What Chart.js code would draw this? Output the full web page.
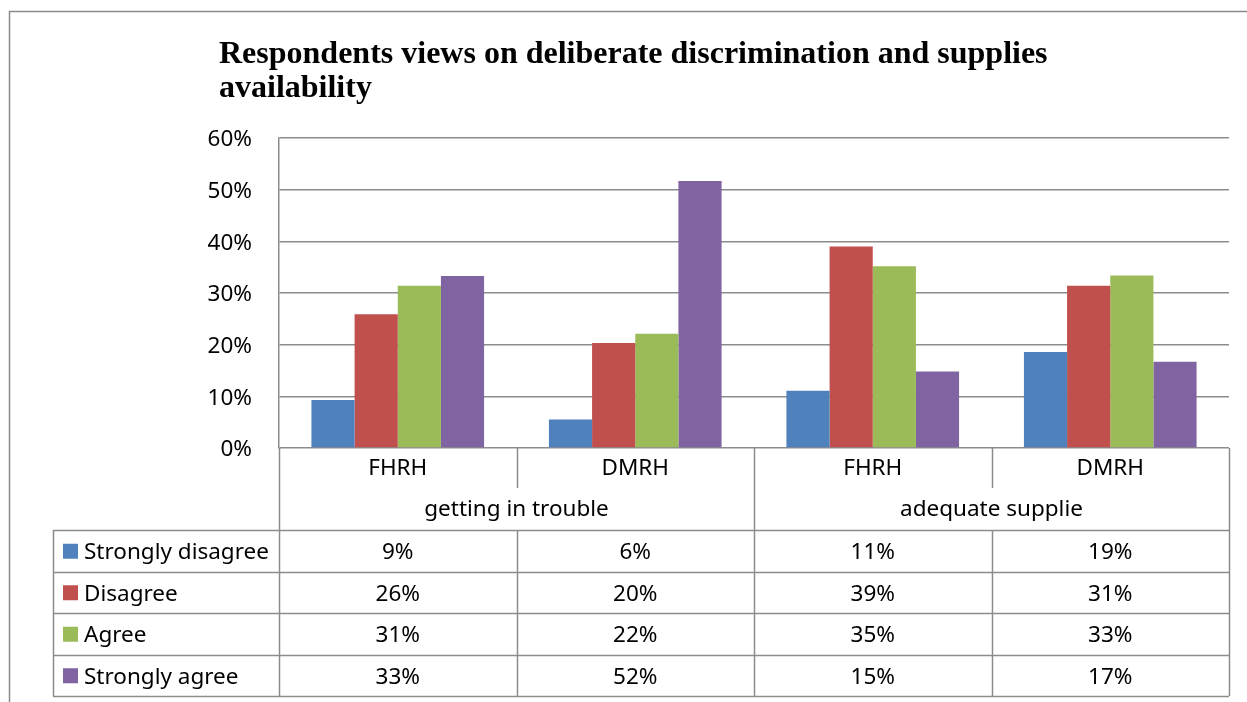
<!DOCTYPE html>
<html>
<head>
<meta charset="utf-8">
<title>Respondents views on deliberate discrimination and supplies availability</title>
<script src="https://cdn.jsdelivr.net/npm/chart.js@4.4.1/dist/chart.umd.min.js"></script>
<style>
    html, body { margin: 0; padding: 0; background: #fff; }
    #wrap { width: 1247px; height: 702px; position: relative; }
</style>
</head>
<body>
<div id="wrap"><canvas id="bar_chart" width="1247" height="702"></canvas></div>
<script>
var titleLines = ["Respondents views on deliberate discrimination and supplies", "availability"];
var hospitals = ["FHRH", "DMRH", "FHRH", "DMRH"];
var questions = ["getting in trouble", "adequate supplie"];
var yTicks = [0, 10, 20, 30, 40, 50, 60];

// percent of respondents per answer, per hospital
var stronglyDisagree = [9.3, 5.5, 11.1, 18.6];
var disagree = [25.9, 20.3, 39.0, 31.4];
var agree = [31.4, 22.1, 35.2, 33.4];
var stronglyAgree = [33.3, 51.7, 14.8, 16.7];

var seriesNames = ["Strongly disagree", "Disagree", "Agree", "Strongly agree"];
var seriesColors = ["#4F81BD", "#C0504D", "#9BBB59", "#8064A2"];

var gridColor = "#8c8c8c";
var textFont = "'Noto Sans', 'Open Sans', sans-serif";
var textSize = 22.5;

// title, outer frame and the data table under the axis
var tablePlugin = {
    id: 'dataTable',
    afterDraw: function (chart) {
        var ctx = chart.ctx;
        var area = chart.chartArea;
        var x = chart.scales.x;
        var colW = (area.right - area.left) / hospitals.length;
        var legendLeft = 53;
        var catBottom = 488;
        var headBottom = 530;
        var rowH = 41.5;
        var rowsTop = headBottom;
        var tableBottom = rowsTop + rowH * seriesNames.length;

        ctx.save();

        // frame
        ctx.strokeStyle = '#8a8a8a';
        ctx.lineWidth = 1.5;
        ctx.beginPath();
        ctx.moveTo(9.5, 702);
        ctx.lineTo(9.5, 11.5);
        ctx.lineTo(1247, 11.5);
        ctx.stroke();

        // title
        ctx.fillStyle = '#000';
        ctx.font = "bold 32px 'Liberation Serif', 'Times New Roman', serif";
        ctx.textAlign = 'left';
        ctx.textBaseline = 'alphabetic';
        ctx.fillText(titleLines[0], 219, 63);
        ctx.fillText(titleLines[1], 219, 97);

        // table lines
        ctx.strokeStyle = gridColor;
        ctx.lineWidth = 1.5;
        ctx.beginPath();
        for (var c = 0; c <= hospitals.length; c++) {
            var lx = Math.round(area.left + c * colW) + 0.5;
            if (c === 1 || c === 3) {
                // split between hospitals only in the header row
                ctx.moveTo(lx, area.bottom);
                ctx.lineTo(lx, catBottom);
                ctx.moveTo(lx, rowsTop);
                ctx.lineTo(lx, tableBottom);
            } else {
                ctx.moveTo(lx, area.bottom);
                ctx.lineTo(lx, tableBottom);
            }
        }
        ctx.moveTo(legendLeft + 0.5, rowsTop);
        ctx.lineTo(legendLeft + 0.5, tableBottom);
        for (var r = 0; r <= seriesNames.length; r++) {
            var ly = Math.round(rowsTop + r * rowH) + 0.5;
            ctx.moveTo(legendLeft, ly);
            ctx.lineTo(area.right, ly);
        }
        ctx.stroke();

        // header texts
        ctx.fillStyle = '#000';
        ctx.font = textSize + "px " + textFont;
        ctx.textAlign = 'center';
        ctx.textBaseline = 'middle';
        hospitals.forEach(function (h, i) {
            ctx.fillText(h, x.getPixelForValue(i), 469);
        });
        questions.forEach(function (q, i) {
            var cx = (x.getPixelForValue(i * 2) + x.getPixelForValue(i * 2 + 1)) / 2;
            ctx.fillText(q, cx, 510);
        });

        // rows
        chart.data.datasets.forEach(function (ds, d) {
            var cy = rowsTop + rowH * d + rowH / 2;
            ctx.fillStyle = ds.backgroundColor;
            ctx.fillRect(63, cy - 7, 15, 15);
            ctx.fillStyle = '#000';
            ctx.textAlign = 'left';
            ctx.fillText(ds.label, 84, cy + 2);
            ctx.textAlign = 'center';
            ds.data.forEach(function (v, i) {
                ctx.fillText(Math.round(v) + '%', x.getPixelForValue(i), cy + 2);
            });
        });

        ctx.restore();
    }
};

function getChartJs() {
    var config = {
        type: 'bar',
        data: {
            labels: hospitals,
            datasets: [
                { label: seriesNames[0], data: stronglyDisagree, backgroundColor: seriesColors[0] },
                { label: seriesNames[1], data: disagree, backgroundColor: seriesColors[1] },
                { label: seriesNames[2], data: agree, backgroundColor: seriesColors[2] },
                { label: seriesNames[3], data: stronglyAgree, backgroundColor: seriesColors[3] }
            ]
        },
        options: {
            responsive: false,
            animation: false,
            layout: { padding: { left: 0, top: 138, right: 18, bottom: 254 } },
            datasets: { bar: { categoryPercentage: 0.727, barPercentage: 1.0 } },
            plugins: {
                legend: { display: false },
                tooltip: { enabled: false }
            },
            scales: {
                x: { display: false },
                y: {
                    min: 0,
                    max: 60,
                    afterFit: function (scale) { scale.width = 279; },
                    afterBuildTicks: function (scale) {
                        scale.ticks = yTicks.map(function (v) { return { value: v }; });
                    },
                    ticks: {
                        padding: 27,
                        labelOffset: 2,
                        color: '#000',
                        font: { family: textFont, size: textSize },
                        callback: function (v) { return v + '%'; }
                    },
                    grid: { color: gridColor, lineWidth: 1.5, drawTicks: false },
                    border: { display: true, color: gridColor, width: 1.5 }
                }
            }
        },
        plugins: [tablePlugin]
    };
    return config;
}

new Chart(document.getElementById("bar_chart").getContext("2d"), getChartJs());
</script>
</body>
</html>
